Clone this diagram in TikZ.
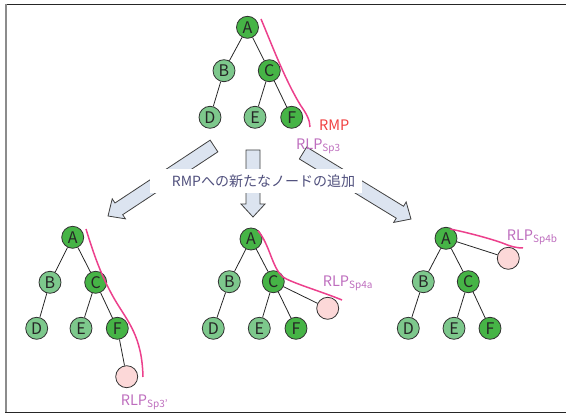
\documentclass[tikz,border=0pt]{standalone}
\usepackage{fontspec}
\setmainfont{Noto Sans CJK JP}
\usetikzlibrary{calc}

\definecolor{darkgreen}{RGB}{70,180,70}
\definecolor{lightgreen}{RGB}{125,200,140}
\definecolor{newpink}{RGB}{252,216,216}
\definecolor{pathpink}{RGB}{236,64,140}
\definecolor{rmpred}{RGB}{240,64,64}
\definecolor{rlppurple}{RGB}{190,110,190}
\definecolor{arrowfill}{RGB}{220,228,240}
\definecolor{captext}{RGB}{80,80,125}

% block arrow from tail coordinate #1 to tip coordinate #2
\newcommand\blockarrow[2]{%
  \coordinate (#1-base) at ($(#2)!13pt!(#1)$);
  \filldraw[blockstyle]
    ($(#1)!7pt!90:(#2)$) -- ($(#1-base)!7pt!-90:(#1)$) --
    ($(#1-base)!12pt!-90:(#1)$) -- (#2) --
    ($(#1-base)!12pt!90:(#1)$) -- ($(#1-base)!7pt!90:(#1)$) --
    ($(#1)!7pt!-90:(#2)$) -- cycle;
}
\newcommand\rlpsub[1]{\raisebox{-1.5pt}{\fontsize{10}{10}\selectfont #1}}

\tikzset{
  treenode/.style={circle, draw=black!80, line width=0.8pt, minimum size=22pt,
    inner sep=0pt, font=\fontsize{16}{16}\selectfont, text=black!85},
  dk/.style={treenode, fill=darkgreen},
  lt/.style={treenode, fill=lightgreen},
  nw/.style={treenode, fill=newpink},
  edge/.style={draw=black!85, line width=0.8pt},
  rightpath/.style={draw=pathpink, line width=1.5pt},
  rlp/.style={anchor=base west, inner sep=0pt, text=rlppurple,
    font=\fontsize{14.5}{14.5}\selectfont},
  blockstyle/.style={fill=arrowfill, draw=black!75, line width=0.8pt, line join=miter},
}

\begin{document}
\begin{tikzpicture}[x=1pt,y=-1pt]
\useasboundingbox (0,0) rectangle (566,414);

% frame
\draw[line width=1.5pt, black!85] (5,4.5) -- (566,4.5);
\draw[line width=2pt, black!45] (6,4) -- (6,413);
\draw[line width=1.5pt, black!85] (5,412.5) -- (566,412.5);

% block arrows
\coordinate (tailL) at (214,146);
\coordinate (tipL) at (108,216);
\coordinate (tailM) at (253,150);
\coordinate (tipM) at (253,217);
\coordinate (tailR) at (303,153);
\coordinate (tipR) at (411,219);
\blockarrow{tailL}{tipL}
\blockarrow{tailM}{tipM}
\blockarrow{tailR}{tipR}

% caption over the arrows
\node[fill=white, minimum width=212pt, minimum height=23.5pt, inner sep=0pt,
  anchor=north west] (captionbox) at (150,169) {};
\node[text=captext, font=\fontsize{14}{14}\selectfont, inner sep=0pt]
  (caption) at (263.5,181.5) {RMPへの新たなノードの追加};

% top tree
\node[dk] (tA) at (247.5,27.3) {A};
\node[lt] (tB) at (224,70.7) {B};
\node[dk] (tC) at (269.3,70.7) {C};
\node[lt] (tD) at (210,117.3) {D};
\node[lt] (tE) at (255,117.3) {E};
\node[dk] (tF) at (291.7,117.3) {F};
\draw[edge] (tA) -- (tB) (tA) -- (tC) (tB) -- (tD) (tC) -- (tE) (tC) -- (tF);
\draw[rightpath] (261,19) .. controls (272,45) and (285,80) .. (301,106)
  .. controls (306,113) and (310,120) .. (310,127);
\node[anchor=base west, inner sep=0pt, text=rmpred, font=\fontsize{14.5}{14.5}\selectfont]
  (rmp) at (319,131) {RMP};
\node[rlp] (rlp3) at (296,150) {RLP\rlpsub{Sp3}};

% left tree: new node under F
\node[dk] (lA) at (72.7,237.3) {A};
\node[lt] (lB) at (50,282.3) {B};
\node[dk] (lC) at (95.7,282.3) {C};
\node[lt] (lD) at (36.7,328.3) {D};
\node[lt] (lE) at (81,328.3) {E};
\node[dk] (lF) at (117.3,328.3) {F};
\node[nw] (lN) at (126.7,376.7) {};
\draw[edge] (lA) -- (lB) (lA) -- (lC) (lB) -- (lD) (lC) -- (lE) (lC) -- (lF) (lF) -- (lN);
\draw[rightpath] (86,229) .. controls (96,262) and (104,281) .. (115,300)
  .. controls (128,322) and (142,336) .. (143,377);
\node[rlp] (rlp3p) at (120.7,406) {RLP\rlpsub{Sp3'}};

% middle tree: new node under C
\node[dk] (mA) at (251,239) {A};
\node[lt] (mB) at (229.3,281.7) {B};
\node[dk] (mC) at (273.3,281.7) {C};
\node[lt] (mD) at (213.3,328.3) {D};
\node[lt] (mE) at (259.3,328.3) {E};
\node[dk] (mF) at (296,328.3) {F};
\node[nw] (mN) at (327.7,308.3) {};
\draw[edge] (mA) -- (mB) (mA) -- (mC) (mB) -- (mD) (mC) -- (mE) (mC) -- (mF) (mC) -- (mN);
\draw[rightpath] (258,230.7) .. controls (270,245) and (272,268) .. (283,277)
  .. controls (292,283) and (320,291) .. (342,300);
\node[rlp] (rlp4a) at (322.7,287) {RLP\rlpsub{Sp4a}};

% right tree: new node under A
\node[dk] (rA) at (446,238.3) {A};
\node[lt] (rB) at (423.3,281.7) {B};
\node[dk] (rC) at (468.3,281.7) {C};
\node[lt] (rD) at (408.3,328.3) {D};
\node[lt] (rE) at (454,328.3) {E};
\node[dk] (rF) at (490,328.3) {F};
\node[nw] (rN) at (508.3,258.3) {};
\draw[edge] (rA) -- (rB) (rA) -- (rC) (rB) -- (rD) (rC) -- (rE) (rC) -- (rF) (rA) -- (rN);
\draw[rightpath] (450,229) .. controls (470,233) and (495,240) .. (505,244)
  .. controls (512,247) and (518,248) .. (523,248);
\node[rlp] (rlp4b) at (506.7,241) {RLP\rlpsub{Sp4b}};
\end{tikzpicture}
\end{document}
